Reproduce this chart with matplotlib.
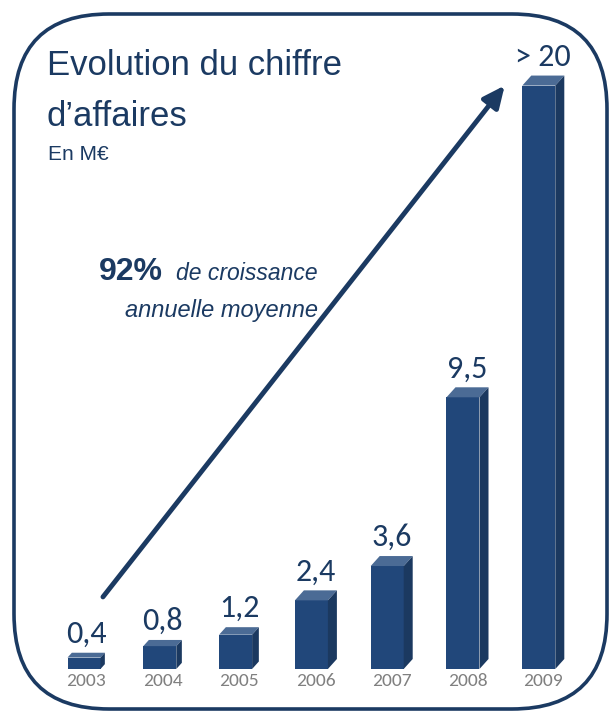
import matplotlib
matplotlib.use("Agg")
import matplotlib.pyplot as plt
from matplotlib.patches import Polygon, FancyBboxPatch
from matplotlib.transforms import IdentityTransform
from matplotlib import font_manager

years = ["2003", "2004", "2005", "2006", "2007", "2008", "2009"]
values = [0.4, 0.8, 1.2, 2.4, 3.6, 9.5, 20.4]
value_labels = ["0,4", "0,8", "1,2", "2,4", "3,6", "9,5", "> 20"]
title_lines = ["Evolution du chiffre", "d\u2019affaires"]
subtitle = "En M\u20ac"
growth_bold = "92%"
growth_rest1 = "de croissance"
growth_rest2 = "annuelle moyenne"

avail = {f.name for f in font_manager.fontManager.ttflist}
narrow = "Liberation Sans Narrow" if "Liberation Sans Narrow" in avail else "Liberation Sans"
numfont = "Carlito" if "Carlito" in avail else "Lato"

W, H, DPI = 610, 711, 100
fig = plt.figure(figsize=(W / DPI, H / DPI), dpi=DPI)
ax = fig.add_axes([0, 0, 1, 1])
ax.set_axis_off()

# scales
px_x = 75.8           # pixels per category
px_y = 28.6           # pixels per unit
x0_px, base_px = 84, 42
ax.set_xlim(-x0_px / px_x, (W - x0_px) / px_x)
ax.set_ylim(-base_px / px_y, (H - base_px) / px_y)

front = "#21477a"
top_c = "#4b6b95"
side_c = "#1b3960"
navy = "#1b3a62"
bw = 33 / px_x
ddx = 9 / px_x
ddy = 10 / px_y

xs = list(range(len(years)))
ax.bar(xs, values, width=bw, color=front, zorder=3)
for x, v, lab, yr in zip(xs, values, value_labels, years):
    l, r = x - bw / 2, x + bw / 2
    k = min(1.0, 0.35 + v / 3.0)
    dx, dy = ddx * k, ddy * k
    ax.add_patch(Polygon([(l, v), (r, v), (r + dx, v + dy), (l + dx, v + dy)],
                         closed=True, color=top_c, zorder=3, lw=0))
    ax.add_patch(Polygon([(r, 0), (r + dx, dy), (r + dx, v + dy), (r, v)],
                         closed=True, color=side_c, zorder=3, lw=0))
    ax.text(x + dx / 2, v + dy + 5 / px_y, lab, ha="center", va="bottom",
            fontsize=23, color=navy, family=numfont, zorder=4)
    ax.text(x + dx / 2, -4 / px_y, yr, ha="center", va="top",
            fontsize=14, color="#808080", family=numfont, zorder=4)

# arrow
ax.annotate("", xy=(5.55, 20.4), xytext=(0.25, 2.52),
            arrowprops=dict(arrowstyle="-|>,head_length=1.3,head_width=0.6",
                            color=navy, lw=3.5, shrinkA=0, shrinkB=0), zorder=5)

# rounded border (pixel coords)
border = FancyBboxPatch((14, 2), 593, 695,
                        boxstyle="round,pad=0,rounding_size=95",
                        transform=IdentityTransform(), fill=False,
                        edgecolor=navy, lw=2.6, zorder=6)
fig.patches.append(border)

def ftext(x, y, s, **kw):
    fig.text(x / W, 1 - y / H, s, **kw)

ftext(47, 75, title_lines[0], fontsize=25, color=navy, family=narrow, va="baseline")
ftext(47, 126, title_lines[1], fontsize=25, color=navy, family=narrow, va="baseline")
ftext(48, 160, subtitle, fontsize=15, color=navy, family=narrow, va="baseline")

ftext(318, 280, growth_rest1, fontsize=16.5, color=navy, family=narrow,
      style="italic", ha="right", va="baseline")
ftext(163, 280, growth_bold, fontsize=23, color=navy, family=narrow,
      weight="bold", ha="right", va="baseline")
ftext(318, 317, growth_rest2, fontsize=17, color=navy, family=narrow,
      style="italic", ha="right", va="baseline")

fig.savefig("out.png", dpi=DPI)
